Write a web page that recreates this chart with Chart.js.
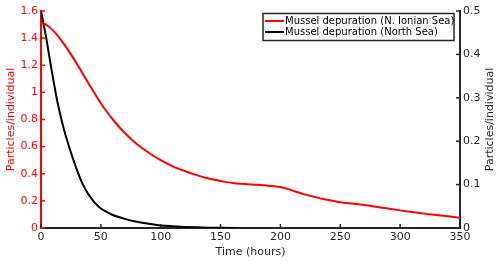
<!DOCTYPE html>
<html>
<head>
<meta charset="utf-8">
<script src="https://cdn.jsdelivr.net/npm/chart.js@4.4.0/dist/chart.umd.min.js"></script>
<style>
  html, body { margin: 0; padding: 0; background: #fff; }
  #wrap { width: 500px; height: 264px; }
</style>
</head>
<body>
<div id="wrap"><canvas id="c" width="500" height="264"></canvas></div>
<script>
// ---- data ----
const ionianHours = [0,5,10,15,20,25,30,35,40,45,50,55,60,70,80,90,100,110,120,130,140,150,160,170,180,190,200,210,220,230,240,250,260,270,280,290,300,310,320,330,340,350];
const ionianSea = [1.52,1.495,1.457,1.406,1.347,1.28,1.21,1.136,1.062,0.99,0.92,0.857,0.80,0.70,0.62,0.555,0.50,0.455,0.42,0.39,0.365,0.347,0.332,0.324,0.318,0.312,0.302,0.277,0.248,0.226,0.206,0.19,0.18,0.17,0.157,0.143,0.13,0.118,0.106,0.096,0.086,0.076];
const northHours = [0,2.5,5,7.5,10,12.5,15,17.5,20,22.5,25,30,35,40,45,50,55,60,70,80,90,100,110,120,130,140,150,165];
const northSea = [0.5,0.465,0.428,0.386,0.346,0.308,0.274,0.245,0.219,0.196,0.174,0.134,0.1,0.076,0.058,0.045,0.037,0.030,0.021,0.0145,0.0097,0.006,0.004,0.0025,0.0015,0.0008,0.0003,0.0];
const seriesLabels = ['Mussel depuration (N. Ionian Sea)', 'Mussel depuration (North Sea)'];
const xTicks = [0,50,100,150,200,250,300,350];
const leftTicks = [0,0.2,0.4,0.6,0.8,1,1.2,1.4,1.6];
const rightTicks = [0,0.1,0.2,0.3,0.4,0.5];
const xTitle = 'Time (hours)';
const yTitle = 'Particles/individual';

const RED = '#ff0000';
const DARK = '#262626';
const FONT = 'DejaVu Sans';

const toPts = (xs, ys) => xs.map((x, i) => ({x, y: ys[i]}));
const fmt = v => String(+v.toFixed(2));

const inwardTicks = {
  id: 'inwardTicks',
  afterDraw(chart) {
    const {ctx, chartArea: ca, scales} = chart;
    ctx.save();
    ctx.lineWidth = 1.5;
    ctx.strokeStyle = DARK;
    xTicks.forEach(v => {
      const px = scales.x.getPixelForValue(v);
      ctx.beginPath(); ctx.moveTo(px, ca.bottom); ctx.lineTo(px, ca.bottom - 4); ctx.stroke();
    });
    ctx.strokeStyle = RED;
    leftTicks.forEach(v => {
      const py = scales.y.getPixelForValue(v);
      ctx.beginPath(); ctx.moveTo(ca.left, py); ctx.lineTo(ca.left + 4, py); ctx.stroke();
    });
    ctx.strokeStyle = DARK;
    rightTicks.forEach(v => {
      const py = scales.y2.getPixelForValue(v);
      ctx.beginPath(); ctx.moveTo(ca.right, py); ctx.lineTo(ca.right - 4, py); ctx.stroke();
    });
    // right axis title (reads bottom-to-top)
    ctx.fillStyle = DARK;
    ctx.font = '11px "' + FONT + '"';
    ctx.textAlign = 'center';
    ctx.textBaseline = 'middle';
    ctx.translate(490, (ca.top + ca.bottom) / 2);
    ctx.rotate(-Math.PI / 2);
    ctx.fillText(yTitle, 0, 0);
    ctx.restore();

    // legend box
    ctx.save();
    const bx = ca.right - 197, by = ca.top + 2.5, bw = 191, bh = 27;
    ctx.fillStyle = '#fff';
    ctx.fillRect(bx, by, bw, bh);
    ctx.lineWidth = 1.5;
    ctx.strokeStyle = DARK;
    ctx.strokeRect(bx, by, bw, bh);
    ctx.font = '10px "' + FONT + '"';
    ctx.textAlign = 'left';
    ctx.textBaseline = 'middle';
    chart.data.datasets.forEach((ds, i) => {
      const ly = by + 7.5 + i * 11;
      ctx.strokeStyle = ds.borderColor;
      ctx.lineWidth = 2;
      ctx.beginPath(); ctx.moveTo(bx + 2, ly); ctx.lineTo(bx + 21, ly); ctx.stroke();
      ctx.fillStyle = '#000';
      ctx.fillText(ds.label, bx + 22, ly + 0.5);
    });
    ctx.restore();
  }
};

new Chart(document.getElementById('c'), {
  type: 'line',
  data: {
    datasets: [
      { label: seriesLabels[0], data: toPts(ionianHours, ionianSea), yAxisID: 'y',
        borderColor: RED, borderWidth: 2, pointRadius: 0, cubicInterpolationMode: 'monotone', fill: false },
      { label: seriesLabels[1], data: toPts(northHours, northSea), yAxisID: 'y2',
        borderColor: '#000', borderWidth: 2, pointRadius: 0, cubicInterpolationMode: 'monotone', fill: false }
    ]
  },
  options: {
    responsive: false,
    animation: false,
    devicePixelRatio: 1,
    layout: { padding: { top: 11, left: 0, right: 0, bottom: 0 } },
    plugins: { legend: { display: false }, tooltip: { enabled: false } },
    scales: {
      x: {
        type: 'linear', min: 0, max: 350,
        afterBuildTicks: s => { s.ticks = xTicks.map(v => ({value: v})); },
        afterFit: s => { s.height = 36; },
        grid: { display: false, drawTicks: false },
        border: { display: true, color: DARK, width: 2 },
        ticks: { color: DARK, font: { family: FONT, size: 11 }, padding: 3, maxRotation: 0, callback: v => fmt(v) },
        title: { display: true, text: xTitle, color: DARK, font: { family: FONT, size: 11 }, padding: { top: 0, bottom: 5 } }
      },
      y: {
        type: 'linear', position: 'left', min: 0, max: 1.6,
        afterBuildTicks: s => { s.ticks = leftTicks.map(v => ({value: v})); },
        afterFit: s => { s.width = 41; },
        grid: { display: false, drawTicks: false },
        border: { display: true, color: RED, width: 2 },
        ticks: { color: RED, font: { family: FONT, size: 11 }, padding: 3, callback: v => fmt(v) },
        title: { display: true, text: yTitle, color: RED, font: { family: FONT, size: 11 }, padding: { top: 5, bottom: 0 } }
      },
      y2: {
        type: 'linear', position: 'right', min: 0, max: 0.5,
        afterBuildTicks: s => { s.ticks = rightTicks.map(v => ({value: v})); },
        afterFit: s => { s.width = 40; },
        grid: { display: false, drawTicks: false },
        border: { display: true, color: DARK, width: 2 },
        ticks: { color: DARK, font: { family: FONT, size: 11 }, padding: 3, callback: v => fmt(v) }
      }
    }
  },
  plugins: [inwardTicks]
});
</script>
</body>
</html>
